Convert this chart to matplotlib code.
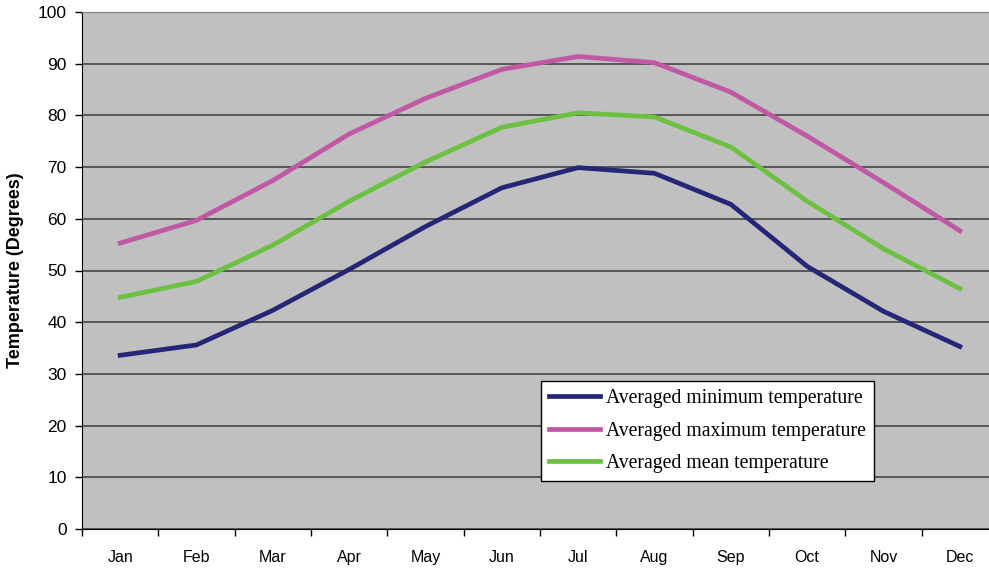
import matplotlib
matplotlib.use('agg')

import matplotlib.pyplot as plt
import numpy as np

months = ['Jan', 'Feb', 'Mar', 'Apr', 'May', 'Jun',
          'Jul', 'Aug', 'Sep', 'Oct', 'Nov', 'Dec']
t_min = [33.6, 35.6, 42.3, 50.2, 58.5, 66.0, 69.9, 68.8, 62.8, 50.8, 42.1, 35.3]
t_max = [55.3, 59.7, 67.4, 76.4, 83.3, 88.9, 91.4, 90.2, 84.5, 76.0, 67.0, 57.7]
t_mean = [44.8, 47.9, 54.9, 63.4, 71.0, 77.7, 80.5, 79.7, 73.9, 63.4, 54.2, 46.5]

fig = plt.figure(figsize=(9.89, 5.69), dpi=100)
# plot area runs a bit past the right edge of the picture
ax = fig.add_axes([82 / 989, 1 - 529 / 569, 916 / 989, 517 / 569])
ax.set_facecolor('#C0C0C0')

x = np.arange(1, 13)
ax.plot(x, t_min, color='#262677', lw=3.4, label='Averaged minimum temperature')
ax.plot(x, t_max, color='#C058A5', lw=3.4, label='Averaged maximum temperature')
ax.plot(x, t_mean, color='#6CC143', lw=3.4, label='Averaged mean temperature')

ax.set_xlim(0.5, 12.5)
ax.set_ylim(0, 100)
ax.set_yticks(range(0, 101, 10))
ax.grid(axis='y', color='#3a3a3a', lw=1.1)
ax.set_axisbelow(True)

# category boundaries get the tick marks, labels sit in between
ax.set_xticks(np.arange(0.5, 13, 1))
ax.set_xticklabels([])
ax.set_xticks(x, minor=True)
ax.set_xticklabels(months, minor=True)
ax.tick_params(axis='x', which='major', length=5, width=1, color='black')
ax.tick_params(axis='x', which='minor', length=0, pad=15, labelsize=11.5)
ax.tick_params(axis='y', length=5, width=1, pad=6, labelsize=12.5)
for lab in ax.get_xticklabels(minor=True) + ax.get_yticklabels():
    lab.set_family('Liberation Sans')

ax.spines['left'].set_color('black')
ax.spines['bottom'].set_color('black')
ax.spines['top'].set_color('#808080')
ax.spines['right'].set_visible(False)

ax.set_ylabel('Temperature (Degrees)', fontsize=13, fontweight='bold',
              family='Liberation Sans', labelpad=10)

leg = ax.legend(loc='lower left', bbox_to_anchor=(459 / 916, 48 / 517),
                prop={'family': 'Liberation Serif', 'size': 14.2},
                frameon=True, fancybox=False, framealpha=1,
                edgecolor='black', handlelength=2.6, handletextpad=0.3,
                borderpad=0.4, labelspacing=0.68, borderaxespad=0)
leg.get_frame().set_linewidth(1.0)

fig.savefig('out.png', dpi=100)
